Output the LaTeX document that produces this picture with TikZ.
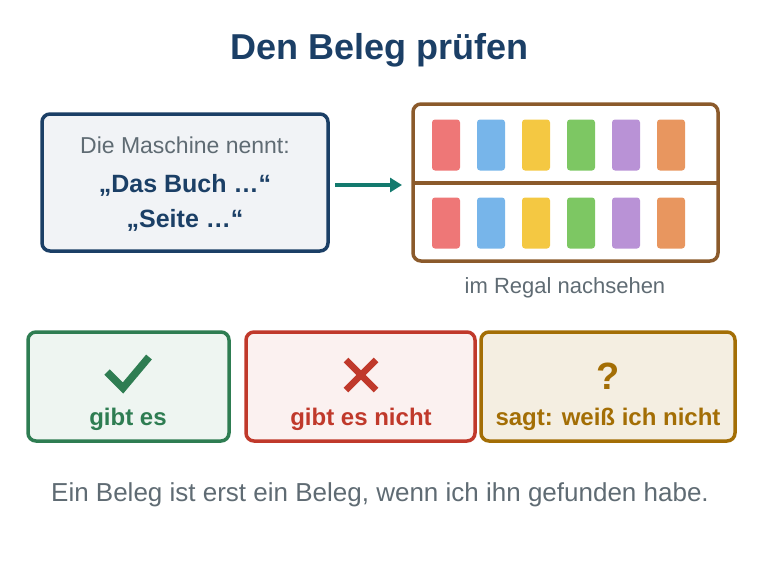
\documentclass[tikz,border=0pt]{standalone}
\usepackage{fontspec}
\setmainfont{Liberation Sans}
\usetikzlibrary{arrows.meta,positioning,calc}
\definecolor{titleBlue}{HTML}{1B3F66}
\definecolor{txtGray}{HTML}{5F6B73}
\definecolor{arrowTeal}{HTML}{137A6E}
\definecolor{shelfBrown}{HTML}{8B5A2B}
\definecolor{okGreen}{HTML}{2E7D52}
\definecolor{noRed}{HTML}{C0392B}
\definecolor{askGold}{HTML}{A36E05}
\begin{document}
\begin{tikzpicture}[x=1pt,y=-1pt,
				box/.style={draw,rounded corners=8pt,line width=3.5pt},
				book/.style={rounded corners=3pt,minimum width=28pt,minimum height=51pt,inner sep=0pt},
				lbl/.style={font=\bfseries\fontsize{24}{28}\selectfont}]
			\useasboundingbox (0,0) rectangle (760,570);
			\node[text=titleBlue,font=\bfseries\fontsize{36}{40}\selectfont] (title) at (380,50) {Den Beleg prüfen};
			% Maschine
			\draw[box,titleBlue,fill=titleBlue!6] (42,114) rectangle (328,251);
			\node[text=txtGray,font=\fontsize{23}{26}\selectfont] (nennt) at (185,145) {Die Maschine nennt:};
			\node[text=titleBlue,font=\bfseries\fontsize{25}{28}\selectfont] (buch) at (185,185) {„Das Buch …“};
			\node[text=titleBlue,font=\bfseries\fontsize{25}{28}\selectfont] (seite) at (185,220) {„Seite …“};
			\coordinate (from) at (335,185);
			\coordinate (to) at (402,185);
			\draw[arrowTeal,line width=4.5pt,-{Triangle[length=12pt,width=14pt]}] (from) -- (to);
			% Regal
			\draw[box,shelfBrown] (413,104) rectangle (718,261);
			\draw[shelfBrown,line width=3.5pt] (413,183) -- (718,183);
			\foreach \c [count=\i] in {EE7777,77B5EA,F4C842,7DC763,B992D6,E8965F} {
				\definecolor{bk}{HTML}{\c}
				\node[book,fill=bk] (top\i) at (401+45*\i,145) {};
				\node[book,fill=bk] (bot\i) at (401+45*\i,223) {};
			}
			\node[text=txtGray,font=\fontsize{22}{26}\selectfont] (regal) at (565,288) {im Regal nachsehen};
			% Ergebnisse
			\draw[box,okGreen,fill=okGreen!8] (28,332) rectangle (229,441);
			\draw[okGreen,line width=7.5pt] (107,372) -- (123,388) -- (149,357);
			\node[text=okGreen,lbl] (gibt) at (128,419) {gibt es};
			\draw[box,noRed,fill=noRed!7] (246,332) rectangle (475,441);
			\draw[noRed,line width=6.5pt] (346,360) -- (376,390) (376,360) -- (346,390);
			\node[text=noRed,lbl] (nicht) at (361,419) {gibt es nicht};
			\draw[box,askGold,fill=askGold!12!white] (481,332) rectangle (735,441);
			\node[text=askGold,font=\bfseries\fontsize{38}{42}\selectfont] (frage) at (608,376) {?};
			\node[text=askGold,lbl] (weiss) at (608,419) {sagt: weiß ich nicht};
			\node[text=txtGray,font=\fontsize{26}{30}\selectfont] (fuss) at (380,495) {Ein Beleg ist erst ein Beleg, wenn ich ihn gefunden habe.};
		\end{tikzpicture}
\end{document}
